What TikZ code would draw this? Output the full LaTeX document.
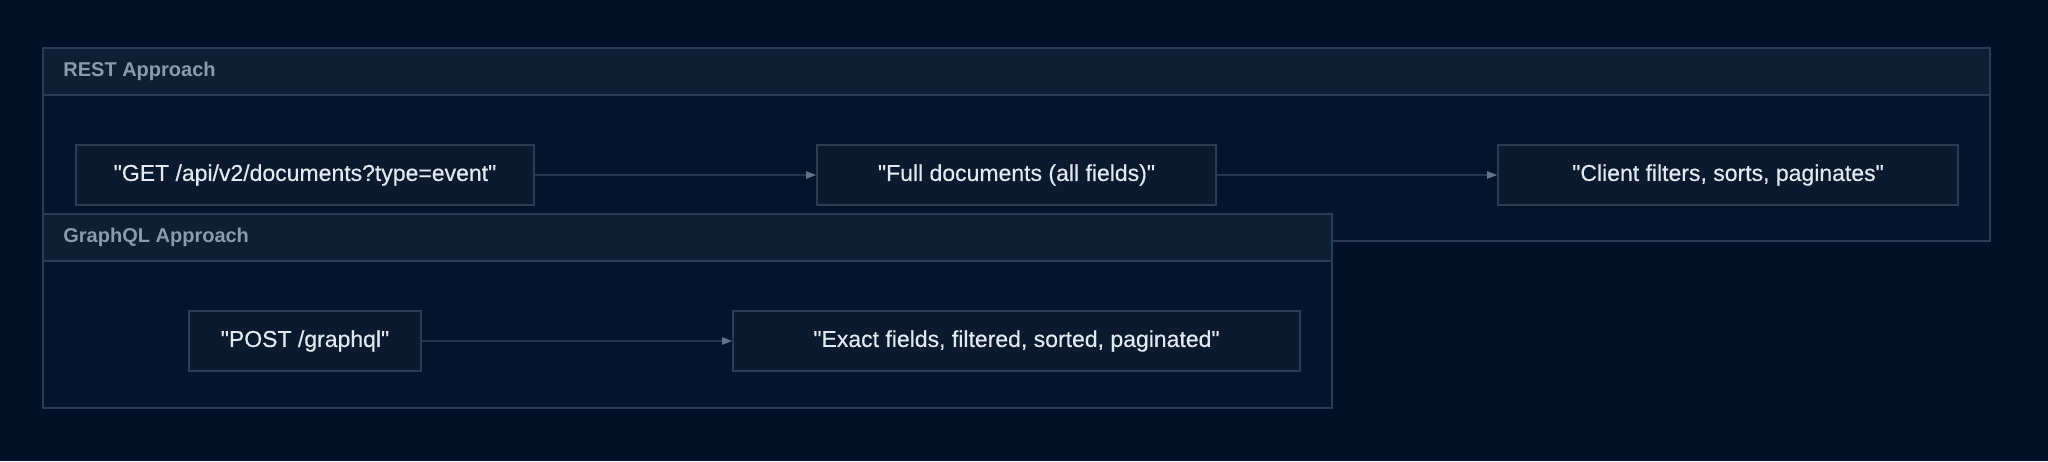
\documentclass[tikz,border=0pt]{standalone}
\usepackage{fontspec}
\setmainfont{Liberation Sans}
\newfontface\boxfont{Liberation Sans}[FakeBold=0.4]
\usetikzlibrary{arrows.meta}
\definecolor{bgnavy}{HTML}{011228}
\definecolor{clusterfill}{HTML}{02152C}
\definecolor{headfill}{HTML}{0C1F35}
\definecolor{edgeline}{HTML}{2A3D55}
\definecolor{boxfill}{HTML}{0B1A2E}
\definecolor{boxtext}{HTML}{E3E9F0}
\definecolor{headtext}{HTML}{8A9AAF}
\definecolor{flowline}{HTML}{26374D}
\definecolor{tipgrey}{HTML}{63738A}
\newcommand{\qt}[1]{\textquotedbl#1\textquotedbl}
\begin{document}
\begin{tikzpicture}[x=0.5pt,y=-0.5pt,
  cluster/.style={draw=edgeline, fill=clusterfill, line width=0.8pt},
  clusterhead/.style={draw=edgeline, fill=headfill, line width=0.8pt},
  headlabel/.style={anchor=west, inner sep=0pt, text=headtext, font=\bfseries\fontsize{10}{12}\selectfont},
  stepbox/.style={draw=edgeline, fill=boxfill, line width=0.8pt, minimum height=30pt, inner sep=0pt, text=boxtext, font=\boxfont\fontsize{11.5}{14}\selectfont},
  flow/.style={draw=flowline, line width=0.7pt, -{Triangle[length=5pt,width=3.6pt,color=tipgrey]}}]
\fill[bgnavy] (0,0) rectangle (2048,461);
\useasboundingbox (0,0) rectangle (2048,461);
% REST
\draw[cluster] (43,48) rectangle (1990,241);
\draw[clusterhead] (43,48) rectangle (1990,95);
\node[headlabel] (restlabel) at (63,71.5) {REST Approach};
\node[stepbox, minimum width=229pt] (get) at (305,175) {\qt{GET /api/v2/documents?type=event}};
\node[stepbox, minimum width=199.5pt] (full) at (1016.5,175) {\qt{Full documents (all fields)}};
\node[stepbox, minimum width=230pt] (client) at (1728,175) {\qt{Client filters, sorts, paginates}};
\draw[flow] (get) -- (full);
\draw[flow] (full) -- (client);
% GraphQL
\draw[cluster] (43,214) rectangle (1332,408);
\draw[clusterhead] (43,214) rectangle (1332,261);
\node[headlabel] (gqllabel) at (63,237.5) {GraphQL Approach};
\node[stepbox, minimum width=116pt] (post) at (305,341) {\qt{POST /graphql}};
\node[stepbox, minimum width=283.5pt] (exact) at (1016.5,341) {\qt{Exact fields, filtered, sorted, paginated}};
\draw[flow] (post) -- (exact);
\end{tikzpicture}
\end{document}
